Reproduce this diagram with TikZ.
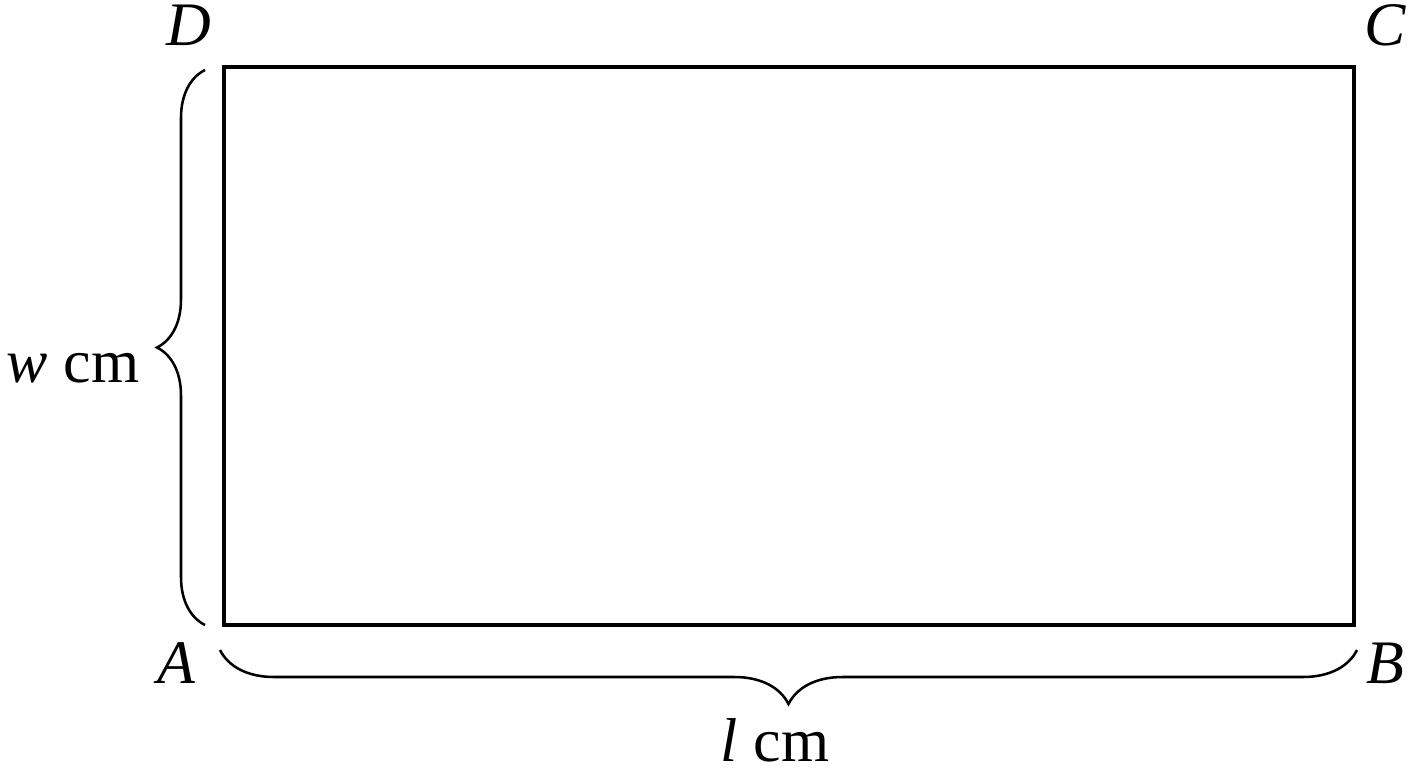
\documentclass[tikz,border=0pt]{standalone}
\usepackage{fontspec}
\setmainfont{Liberation Serif}
\usetikzlibrary{decorations.pathreplacing}
\begin{document}
\begin{tikzpicture}[x=0.025cm,y=-0.025cm,
  lbl/.style={font=\fontsize{44}{48}\selectfont, inner sep=0pt, anchor=base},
  brc/.style={decorate, line width=1.8pt, decoration={brace, amplitude=#1}}]
\useasboundingbox (0,0) rectangle (1408,768);
\coordinate (A) at (224,625);
\coordinate (B) at (1354,625);
\coordinate (C) at (1354,67);
\coordinate (D) at (224,67);
\draw[line width=2.2pt] (A) -- (B) -- (C) -- (D) -- cycle;
\coordinate (lb1) at (205,625);
\coordinate (lb2) at (205,70);
\draw[brc=1.2cm] (lb1) -- (lb2);
\coordinate (bb1) at (1357,650);
\coordinate (bb2) at (220,650);
\draw[brc=1.35cm] (bb1) -- (bb2);
\node[lbl] (lD) at (189,46) {\textit{D}};
\node[lbl] (lC) at (1385,46) {\textit{C}};
\node[lbl] (lA) at (177,683) {\textit{A}};
\node[lbl] (lB) at (1385,683) {\textit{B}};
\node[lbl] (lw) at (73,382) {\textit{w} cm};
\node[lbl] (ll) at (775,761) {\textit{l} cm};
\end{tikzpicture}
\end{document}
